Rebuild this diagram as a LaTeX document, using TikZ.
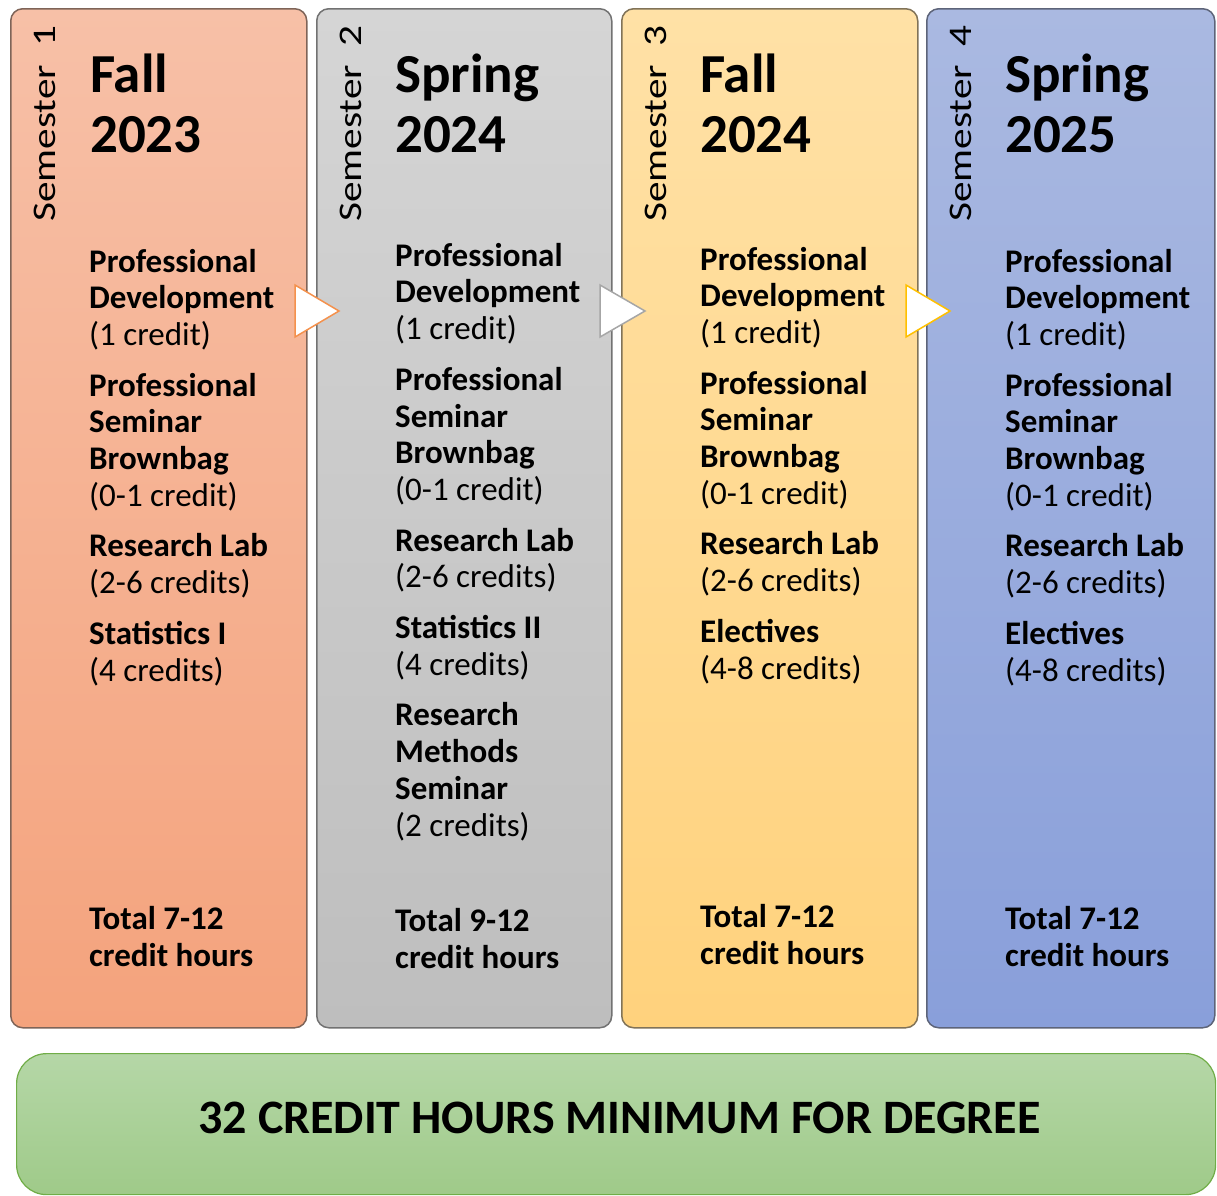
\documentclass[tikz,border=0pt]{standalone}
\usepackage{fontspec}
\setmainfont{Carlito}
\usepackage{graphicx}
\usepackage{tikz}
\usetikzlibrary{calc}
\definecolor{fallAtop}{HTML}{F7C0A7}
\definecolor{fallAbot}{HTML}{F4A37D}
\definecolor{sprAtop}{HTML}{D5D5D5}
\definecolor{sprAbot}{HTML}{BEBEBE}
\definecolor{fallBtop}{HTML}{FFE1A6}
\definecolor{fallBbot}{HTML}{FFD27D}
\definecolor{sprBtop}{HTML}{AAB9E1}
\definecolor{sprBbot}{HTML}{899FDA}
\definecolor{degtop}{HTML}{B5D7A7}
\definecolor{degbot}{HTML}{9FCA89}
\definecolor{degline}{HTML}{70AD47}
\definecolor{triorange}{HTML}{F4914D}
\definecolor{trigray}{HTML}{A6A6A6}
\definecolor{trigold}{HTML}{FFC000}

\begin{document}
\begin{tikzpicture}[x=1pt,y=-1pt,
  semcol/.style={rounded corners=12pt, line width=1.5pt, inner sep=0pt, anchor=north west,
    minimum height=1019pt},
  semlabel/.style={rotate=90, anchor=base west, inner sep=0pt,
    font=\fontsize{33}{38}\selectfont},
  heading/.style={anchor=base west, inner sep=0pt, align=left,
    font=\fontsize{55}{60}\selectfont\bfseries},
  course/.style={anchor=base west, inner sep=0pt, align=left,
    font=\fontsize{33}{36.7}\selectfont},
  total/.style={anchor=base west, inner sep=0pt, align=left,
    font=\fontsize{33}{37}\selectfont\bfseries},
  tri/.style={fill=white, line width=1.5pt, line join=miter}]
\useasboundingbox (0,0) rectangle (1217,1195);
% semester columns
\node[semcol, top color=fallAtop, bottom color=fallAbot, draw=fallAbot!45!gray!70!black,
  minimum width=296pt] (sem1) at (10,8) {};
\node[semcol, top color=sprAtop, bottom color=sprAbot, draw=sprAbot!60!black,
  minimum width=295pt] (sem2) at (316,8) {};
\node[semcol, top color=fallBtop, bottom color=fallBbot, draw=fallBbot!45!gray!70!black,
  minimum width=296pt] (sem3) at (621,8) {};
\node[semcol, top color=sprBtop, bottom color=sprBbot, draw=sprBbot!50!gray!70!black,
  minimum width=288pt] (sem4) at (926,8) {};
% degree bar
\node[rounded corners=30pt, line width=1.2pt, draw=degline, top color=degtop, bottom color=degbot,
  inner sep=0pt, anchor=north west, minimum width=1199pt, minimum height=141pt] (degree) at (16,1053) {};
\node[anchor=base, inner sep=0pt, font=\fontsize{48}{55}\selectfont\bfseries] (degtext) at (619.5,1133)
  {32 CREDIT HOURS MINIMUM FOR DEGREE};
% arrows between semesters
\draw[tri, draw=triorange] (295,285) -- (339,311) -- (295,337) -- cycle;
\draw[tri, draw=trigray] (600,285) -- (645,311) -- (600,337) -- cycle;
\draw[tri, draw=trigold] (906,285) -- (950,311) -- (906,337) -- cycle;
% semester labels
\node[semlabel] (lab1) at (55,222) {\scalebox{1.25}[1]{Semester\ \ 1}};
\node[semlabel] (lab2) at (361,222) {\scalebox{1.25}[1]{Semester\ \ 2}};
\node[semlabel] (lab3) at (666,222) {\scalebox{1.25}[1]{Semester\ \ 3}};
\node[semlabel] (lab4) at (971,222) {\scalebox{1.25}[1]{Semester\ \ 4}};
% headings (anchored at the last line)
\node[heading] (head1) at (90,152) {Fall\\2023};
\node[heading] (head2) at (395,152) {Spring\\2024};
\node[heading] (head3) at (700,152) {Fall\\2024};
\node[heading] (head4) at (1005,152) {Spring\\2025};
% courses
\node[course] (list1) at (89,681) {\textbf{Professional}\\\textbf{Development}\\(1 credit)\\[14pt]
  \textbf{Professional}\\\textbf{Seminar}\\\textbf{Brownbag}\\(0-1 credit)\\[14pt]
  \textbf{Research Lab}\\(2-6 credits)\\[14pt]
  \textbf{Statistics I}\\(4 credits)};
\node[course] (list2) at (395,836) {\textbf{Professional}\\\textbf{Development}\\(1 credit)\\[14pt]
  \textbf{Professional}\\\textbf{Seminar}\\\textbf{Brownbag}\\(0-1 credit)\\[14pt]
  \textbf{Research Lab}\\(2-6 credits)\\[14pt]
  \textbf{Statistics II}\\(4 credits)\\[14pt]
  \textbf{Research}\\\textbf{Methods}\\\textbf{Seminar}\\(2 credits)};
\node[course] (list3) at (700,679) {\textbf{Professional}\\\textbf{Development}\\(1 credit)\\[14pt]
  \textbf{Professional}\\\textbf{Seminar}\\\textbf{Brownbag}\\(0-1 credit)\\[14pt]
  \textbf{Research Lab}\\(2-6 credits)\\[14pt]
  \textbf{Electives}\\(4-8 credits)};
\node[course] (list4) at (1005,681) {\textbf{Professional}\\\textbf{Development}\\(1 credit)\\[14pt]
  \textbf{Professional}\\\textbf{Seminar}\\\textbf{Brownbag}\\(0-1 credit)\\[14pt]
  \textbf{Research Lab}\\(2-6 credits)\\[14pt]
  \textbf{Electives}\\(4-8 credits)};
% totals
\node[total] (tot1) at (89,966) {Total 7-12\\credit hours};
\node[total] (tot2) at (395,968) {Total 9-12\\credit hours};
\node[total] (tot3) at (700,964) {Total 7-12\\credit hours};
\node[total] (tot4) at (1005,966) {Total 7-12\\credit hours};
\end{tikzpicture}
\end{document}
